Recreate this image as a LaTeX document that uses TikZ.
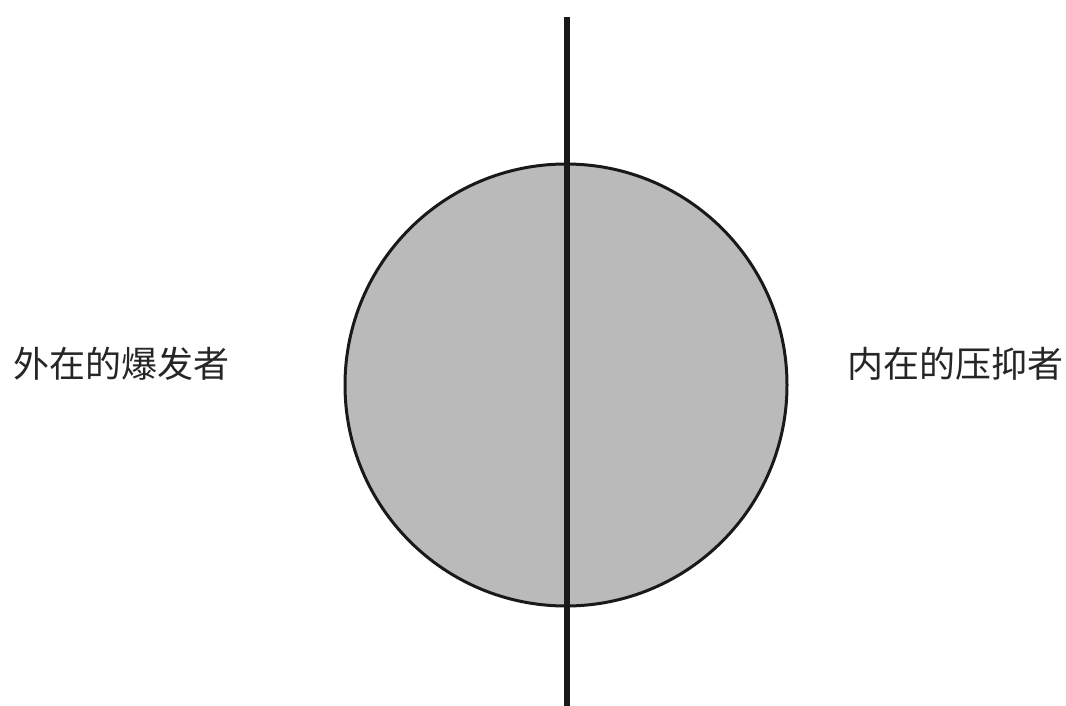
\documentclass[tikz,border=0pt]{standalone}
\usepackage{fontspec}
\newfontfamily\cjk{Noto Sans CJK SC}
\begin{document}
\begin{tikzpicture}[x=1pt,y=-1pt,
  lbl/.style={font=\cjk\fontsize{36}{40}\selectfont, text=black!85, inner sep=0pt, anchor=center}]
\useasboundingbox (0,0) rectangle (1066,706);
\node[circle, draw=black!90, line width=3pt, fill=black!27, minimum size=442pt, inner sep=0pt] (c) at (566,385) {};
\coordinate (top) at (567,17);
\coordinate (bot) at (567,706);
\draw[line width=6.5pt, black!90] (top) -- (bot);
\node[lbl] (left) at (121,364) {外在的爆发者};
\node[lbl] (right) at (955,364) {内在的压抑者};
\end{tikzpicture}
\end{document}
